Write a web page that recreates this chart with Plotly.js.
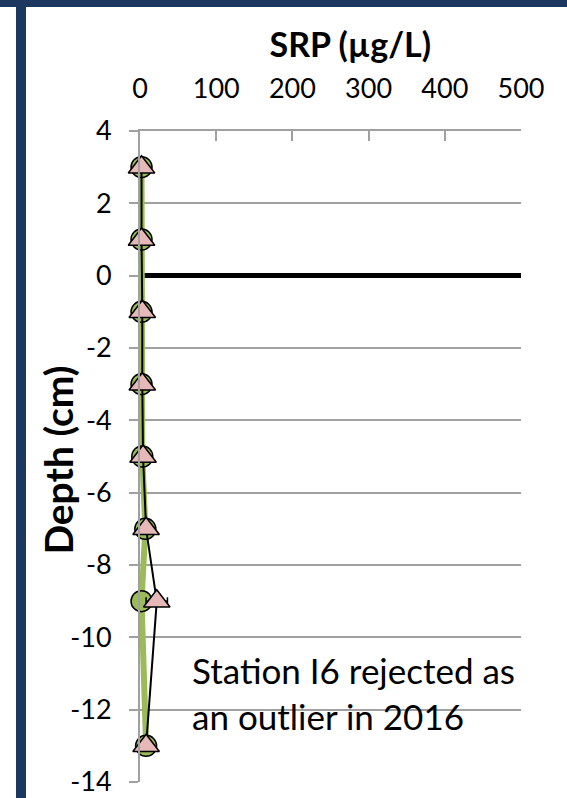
<!DOCTYPE html>
<html>
<head>
<meta charset="utf-8">
<script src="https://cdn.plot.ly/plotly-3.0.1.min.js"></script>
<style>
  html, body { margin: 0; padding: 0; background: #ffffff; }
  #wrap { position: relative; width: 567px; height: 798px; overflow: hidden; }
  #chart { position: absolute; left: 0; top: 0; width: 567px; height: 798px; }
  .navy { position: absolute; background: #1c3860; z-index: 10; }
</style>
</head>
<body>
<div id="wrap">
  <div id="chart"></div>
  <div class="navy" style="left:0;top:0;width:567px;height:7px;"></div>
  <div class="navy" style="left:16px;top:0;width:10px;height:798px;"></div>
</div>
<script>
// Depth of each sample (cm)
var depths = [3, 1, -1, -3, -5, -7, -9, -13];
// SRP values (µg/L)
var srpCircles = [2, 2, 2, 2, 3, 7, 2, 8];
var srpTriangles = [2, 2, 3, 3, 4, 8, 22, 8];
var triangleErr = [0, 0, 0, 0, 0, 0, 14, 0];
var xTicks = [0, 100, 200, 300, 400, 500];
var yTicks = [4, 2, 0, -2, -4, -6, -8, -10, -12, -14];
var xTitle = 'SRP (µg/L)';
var yTitle = 'Depth (cm)';
var noteLines = ["Station I6 rejected as", "an outlier in 2016"];

var FONT = "Lato, 'Open Sans', sans-serif";

var traces = [
  {
    x: srpCircles, y: depths, type: 'scatter', mode: 'lines+markers',
    line: {color: '#9bbb59', width: 6},
    marker: {symbol: 'circle', size: 21, color: '#9bbb59', line: {color: '#000000', width: 1.5}},
    cliponaxis: false, showlegend: false, hoverinfo: 'x+y'
  },
  {
    x: srpTriangles, y: depths, type: 'scatter', mode: 'lines+markers',
    line: {color: '#000000', width: 2},
    marker: {symbol: 'triangle-up', size: 23, color: '#e6b9b8', line: {color: '#000000', width: 1.5}},
    error_x: {type: 'data', array: triangleErr, symmetric: true, color: '#000000', thickness: 1.5, width: 4},
    cliponaxis: false, showlegend: false, hoverinfo: 'x+y'
  }
];

var layout = {
  width: 567, height: 798,
  margin: {l: 139.5, r: 46, t: 131, b: 16, pad: 0},
  paper_bgcolor: '#ffffff', plot_bgcolor: '#ffffff',
  font: {family: FONT, color: '#000000', size: 27},
  title: {
    text: xTitle, xref: 'paper', x: 0.552, xanchor: 'center',
    yref: 'container', y: 1 - 45 / 798, yanchor: 'middle',
    font: {family: FONT, size: 34, color: '#000000', weight: 'bold'}
  },
  xaxis: {
    side: 'top', range: [0, 500], tickvals: xTicks, ticktext: xTicks.map(String),
    showgrid: false, zeroline: false,
    showline: true, linecolor: '#a0a0a0', linewidth: 2,
    ticks: 'inside', ticklen: 10, tickwidth: 2, tickcolor: '#a0a0a0',
    tickfont: {family: FONT, size: 27, color: '#000000'},
    ticklabelstandoff: 20
  },
  yaxis: {
    range: [-14, 4], tickvals: yTicks, ticktext: yTicks.map(String),
    showgrid: true, gridcolor: '#a0a0a0', gridwidth: 2,
    zeroline: true, zerolinecolor: '#000000', zerolinewidth: 5,
    showline: true, linecolor: '#a0a0a0', linewidth: 2,
    ticks: 'outside', ticklen: 9, tickwidth: 2, tickcolor: '#a0a0a0',
    tickfont: {family: FONT, size: 27, color: '#000000'},
    ticklabelstandoff: 12
  },
  annotations: [
    {
      xref: 'paper', yref: 'paper', x: (57 - 139.5) / 381.5, y: (782 - 460) / 651,
      xanchor: 'center', yanchor: 'middle', textangle: -90,
      text: '<b>' + yTitle + '</b>', showarrow: false,
      font: {family: FONT, size: 39, color: '#000000'}
    },
    {
      xref: 'x', yref: 'y', x: 66, y: -11.54, xanchor: 'left', yanchor: 'middle',
      text: noteLines.join('<br>'), align: 'left', showarrow: false,
      font: {family: FONT, size: 35, color: '#000000'}
    }
  ]
};

Plotly.newPlot('chart', traces, layout, {displayModeBar: false, staticPlot: true});
</script>
</body>
</html>
